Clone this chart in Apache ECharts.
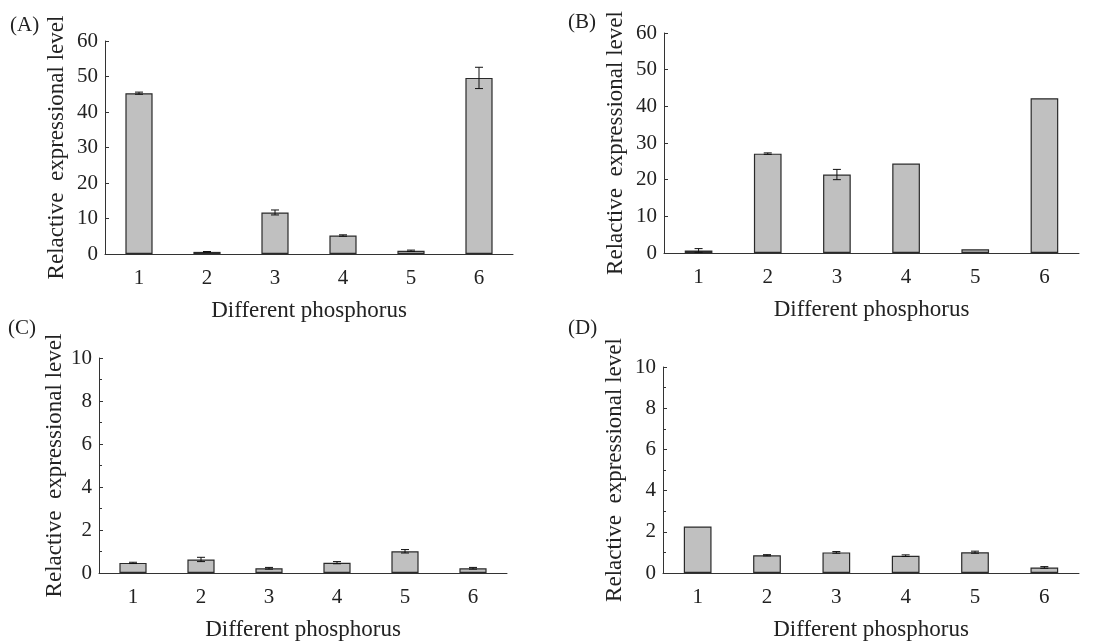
<!DOCTYPE html>
<html>
<head>
<meta charset="utf-8">
<script src="https://cdn.jsdelivr.net/npm/echarts@6/dist/echarts.min.js"></script>
<style>
  html, body { margin: 0; padding: 0; background: #fff; }
  #main { width: 1099px; height: 643px; }
</style>
</head>
<body>
<div id="main"></div>
<script>
// data
var categories = ["1", "2", "3", "4", "5", "6"];
var valuesA = [45.3, 0.6, 11.7, 5.2, 0.9, 49.6];
var errorsA = [0.3, 0.1, 0.7, 0.2, 0.2, 3.0];
var valuesB = [0.7, 27.1, 21.4, 24.4, 1.0, 42.2];
var errorsB = [0.5, 0.2, 1.4, 0, 0, 0];
var valuesC = [0.47, 0.63, 0.22, 0.48, 1.01, 0.22];
var errorsC = [0.03, 0.1, 0.04, 0.05, 0.08, 0.04];
var valuesD = [2.26, 0.86, 1.0, 0.84, 1.01, 0.27];
var errorsD = [0, 0.03, 0.04, 0.04, 0.05, 0.04];
var panelLabels = ["(A)", "(B)", "(C)", "(D)"];
var yMax = [60, 60, 10, 10];
var yStep = [10, 10, 2, 2];
var xTitle = "Different phosphorus";
var yTitle = "Relactive  expressional level";

var font = "Liberation Serif";
var ink = "#222";

var myChart = echarts.init(document.getElementById("main"));

var grids = [
  { left: 105, top: 41, width: 408, height: 213 },
  { left: 664, top: 33, width: 415, height: 220 },
  { left: 99, top: 358, width: 408, height: 215 },
  { left: 663, top: 367, width: 416, height: 206 },
];
var labelPos = [
  { left: 10, top: 15 },
  { left: 568, top: 12 },
  { left: 8, top: 318 },
  { left: 568, top: 318 },
];
var yGaps = [37, 37, 33, 37];
var allValues = [valuesA, valuesB, valuesC, valuesD];
var allErrors = [errorsA, errorsB, errorsC, errorsD];

var xAxes = [], yAxes = [], series = [], titles = [];

grids.forEach(function (g, i) {
  xAxes.push({
    gridIndex: i,
    type: "category",
    data: categories,
    name: xTitle,
    nameLocation: "middle",
    nameGap: 45,
    nameTextStyle: { fontFamily: font, fontSize: 23, color: ink },
    axisLine: { lineStyle: { color: "#333", width: 1 } },
    axisTick: { inside: true, length: 4, lineStyle: { color: "#333" } },
    axisLabel: { fontFamily: font, fontSize: 21, color: ink, margin: 14 },
  });
  yAxes.push({
    gridIndex: i,
    type: "value",
    min: 0,
    max: yMax[i],
    interval: yStep[i],
    name: yTitle,
    nameLocation: "middle",
    nameGap: yGaps[i],
    nameTextStyle: { fontFamily: font, fontSize: 23, color: ink },
    axisLine: { show: true, lineStyle: { color: "#333", width: 1 } },
    axisTick: { show: true, inside: true, length: 4, lineStyle: { color: "#333" } },
    minorTick: { show: i >= 2, splitNumber: 2, length: 3, lineStyle: { color: "#333" } },
    splitLine: { show: false },
    axisLabel: { fontFamily: font, fontSize: 21, color: ink, margin: 7 },
  });
  series.push({
    type: "bar",
    xAxisIndex: i,
    yAxisIndex: i,
    data: allValues[i],
    barWidth: "40%",
    itemStyle: { color: "#c0c0c0", borderColor: "#2a2a2a", borderWidth: 1.2 },
    silent: true,
  });
  series.push({
    type: "custom",
    xAxisIndex: i,
    yAxisIndex: i,
    silent: true,
    z: 5,
    data: allValues[i].map(function (v, k) {
      return [k, v, allErrors[i][k]];
    }),
    encode: { x: 0, y: 1 },
    renderItem: function (params, api) {
      var err = api.value(2);
      if (!err) return;
      var hi = api.coord([api.value(0), api.value(1) + err]);
      var lo = api.coord([api.value(0), api.value(1) - err]);
      var w = 4;
      var style = { stroke: "#111", lineWidth: 1 };
      return {
        type: "group",
        children: [
          { type: "line", shape: { x1: hi[0], y1: hi[1], x2: lo[0], y2: lo[1] }, style: style },
          { type: "line", shape: { x1: hi[0] - w, y1: hi[1], x2: hi[0] + w, y2: hi[1] }, style: style },
          { type: "line", shape: { x1: lo[0] - w, y1: lo[1], x2: lo[0] + w, y2: lo[1] }, style: style },
        ],
      };
    },
  });
  titles.push({
    text: panelLabels[i],
    left: labelPos[i].left,
    top: labelPos[i].top,
    padding: 0,
    textStyle: { fontFamily: font, fontSize: 21, fontWeight: "normal", color: ink },
  });
});

var option = {
  backgroundColor: "#fff",
  animation: false,
  title: titles,
  grid: grids,
  xAxis: xAxes,
  yAxis: yAxes,
  series: series,
};

myChart.setOption(option);
</script>
</body>
</html>
